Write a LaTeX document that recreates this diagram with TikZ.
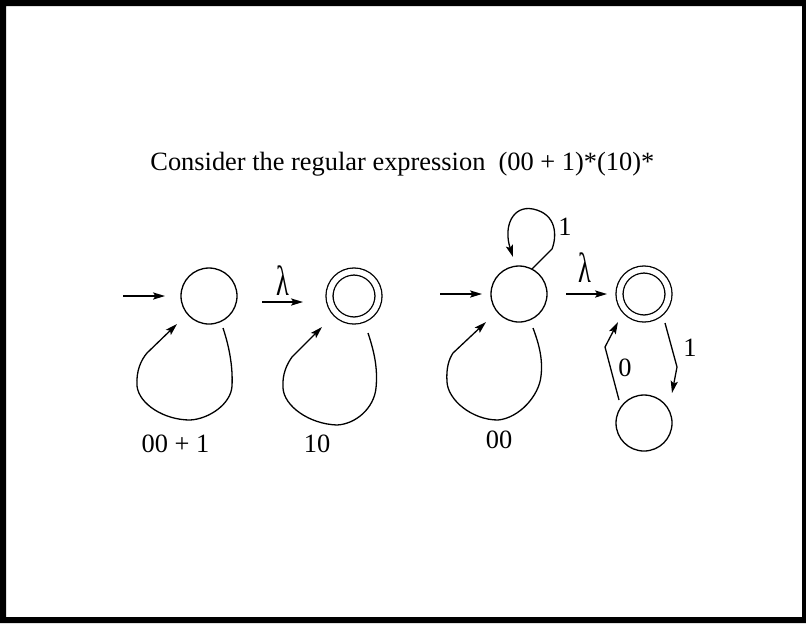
\documentclass[tikz,border=0pt]{standalone}
\usepackage{fontspec}
\setmainfont{Liberation Serif}
\usepackage{graphicx}
\usepackage{tikz}
\usetikzlibrary{arrows.meta}
\usetikzlibrary{calc}

\begin{document}
\begin{tikzpicture}[
    x=0.5pt, y=-0.5pt,
    font=\fontsize{13.2}{15}\selectfont,
    st/.style={
        draw,
        circle,
        line width=0.65pt,
        minimum size=28pt,
        inner sep=0pt,
        outer sep=0pt
    },
    acc/.style={
        draw,
        circle,
        double,
        double distance=2.85pt,
        line width=0.65pt,
        minimum size=24.5pt,
        inner sep=0pt,
        outer sep=0pt
    },
    trans/.style={
        draw,
        line width=0.65pt,
        -{Stealth[length=6pt,width=3.6pt,inset=1.2pt]}
    },
    lbl/.style={
        inner sep=0pt,
        anchor=base
    }
]
\useasboundingbox (0,0) rectangle (806,623);

% --- Frame
\fill[black, even odd rule] (0,0) rectangle (806,623) (6,6) rectangle (802,617);

% --- Title
\node[lbl, anchor=base west] (title) at (150,170) {Consider the regular expression \ (00 + 1)*(10)*};

% --- Left machine
\node[st] (s1) at (209,296) {};
\node[acc] (f1) at (354,296) {};

% --- Right machine
\node[st] (s2) at (519,294) {};
\node[acc] (f2) at (644,294) {};
\node[st] (t2) at (644,423) {};

% --- Start arrows
\coordinate (in1) at (123,296);
\coordinate (in2) at (440,294);
\draw[trans, shorten >=8pt] (in1) -- (s1);
\draw[trans, shorten >=4.5pt] (in2) -- (s2);

% --- Lambda moves
\draw[trans, shorten <=12.5pt, shorten >=13.25pt] ([yshift=-3pt]s1.east) -- ([yshift=-3pt]f1.west);
\draw[trans, shorten <=9.5pt, shorten >=6.25pt] (s2.east) -- (f2.west);
\node[lbl] (lam1) at (283,295) {\scalebox{1}[1.6]{λ}};
\node[lbl] (lam2) at (585,282) {\scalebox{1}[1.6]{λ}};

% --- Loops below
\draw[trans, shift={(s1)}] (14,32) .. controls (20,50) and (24,70) .. (23,90)
    .. controls (22,108) and (0,123) .. (-19,124)
    .. controls (-45,124) and (-70,108) .. (-72,90)
    .. controls (-73,75) and (-68,64) .. (-62,57) -- (-32,28);
\draw[trans, shift={(f1)}] (14,37) .. controls (20,55) and (24,72) .. (22,92)
    .. controls (20,112) and (2,128) .. (-17,129)
    .. controls (-45,128) and (-70,110) .. (-71,92)
    .. controls (-72,78) and (-67,68) .. (-62,61) -- (-32,31);
\draw[trans, shift={(s2)}] (14,34) .. controls (20,50) and (24,65) .. (22,82)
    .. controls (20,102) and (0,124) .. (-21,126)
    .. controls (-47,126) and (-71,106) .. (-72,88)
    .. controls (-73,74) and (-70,65) .. (-66,59) -- (-33,28);
\node[lbl] (l1) at (175.5,452) {00 + 1};
\node[lbl] (l2) at (317,452) {10};
\node[lbl] (l3) at (499,448) {00};

% --- Loop on top
\draw[trans, shift={(s2)}] (13,-25) -- (33,-45)
    .. controls (38,-58) and (38,-80) .. (14,-85)
    .. controls (-6,-89) and (-16,-68) .. (-6,-37);
\node[lbl] (one1) at (565,235) {1};

% --- Between final and last state
\draw[trans] ([shift={(21,29)}]f2.center) -- ([shift={(33,73)}]f2.center) -- ([shift={(28,-30)}]t2.center);
\draw[trans] ([shift={(-25,-23)}]t2.center) -- ([shift={(-39,-76)}]t2.center) -- ([shift={(-26,28)}]f2.center);
\node[lbl] (one2) at (690,356) {1};
\node[lbl] (zero) at (625,376) {0};

\end{tikzpicture}
\end{document}
